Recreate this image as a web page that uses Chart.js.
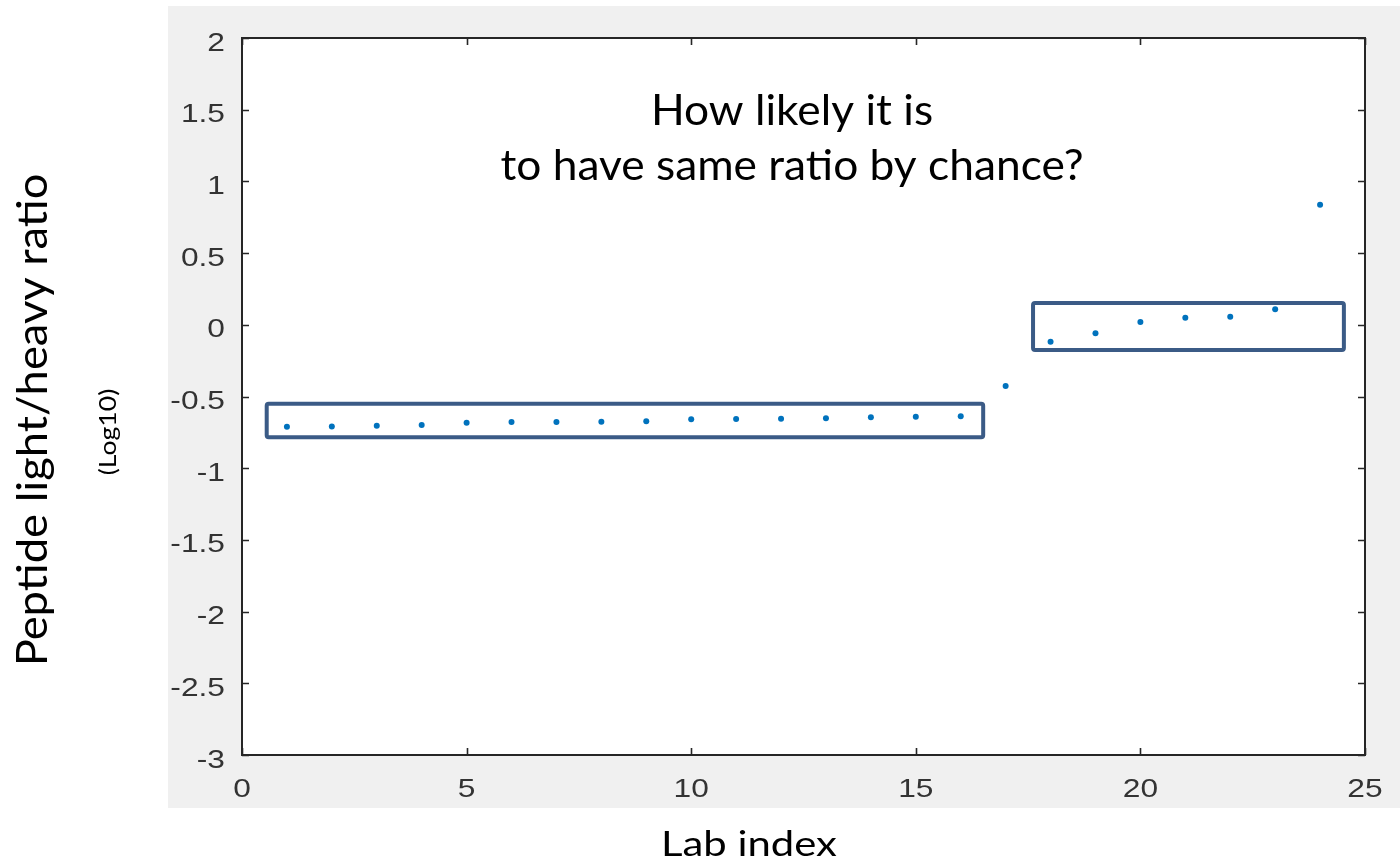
<!DOCTYPE html>
<html>
<head>
<meta charset="utf-8">
<script src="https://cdn.jsdelivr.net/npm/chart.js@4/dist/chart.umd.min.js"></script>
<style>
  html, body { margin: 0; padding: 0; background: #ffffff; }
  #wrap { width: 1400px; height: 866px; position: relative; }
</style>
</head>
<body>
<div id="wrap"><canvas id="c" width="1400" height="866"></canvas></div>
<script>
// Lab index and measured peptide light/heavy ratio (log10)
const labIndex = [1, 2, 3, 4, 5, 6, 7, 8, 9, 10, 11, 12, 13, 14, 15, 16, 17, 18, 19, 20, 21, 22, 23, 24];
const ratioLog10 = [-0.711, -0.710, -0.704, -0.699, -0.683, -0.678, -0.678, -0.676, -0.673, -0.659, -0.657, -0.655,
                    -0.652, -0.645, -0.641, -0.638, -0.427, -0.118, -0.059, 0.020, 0.050, 0.057, 0.108, 0.838];
const xTickValues = [0, 5, 10, 15, 20, 25];
const yTickValues = [2, 1.5, 1, 0.5, 0, -0.5, -1, -1.5, -2, -2.5, -3];

// Highlight boxes around the two clusters, in data units
const lowClusterBox = { x: [0.55, 16.5], y: [-0.785, -0.55] };
const highClusterBox = { x: [17.61, 24.53], y: [-0.176, 0.152] };

const titleLines = ['How likely it is', 'to have same ratio by chance?'];

const AXIS_COLOR = '#262626';
const TICK_COLOR = '#333333';
const TICK_FONT = '26px "Liberation Sans", Arial, sans-serif';
const TEXT_FONT = 'Lato, "Open Sans", sans-serif';

// Text drawn with a horizontal stretch factor (the figure is slightly widened)
function stretchedText(ctx, text, x, y, sx, align, baseline) {
  ctx.save();
  ctx.translate(x, y);
  ctx.scale(sx, 1);
  ctx.textAlign = align;
  ctx.textBaseline = baseline;
  ctx.fillText(text, 0, 0);
  ctx.restore();
}

// Grey figure background and white plotting area
const backdrop = {
  id: 'backdrop',
  beforeDraw(chart) {
    const { ctx, chartArea: a } = chart;
    ctx.save();
    ctx.fillStyle = '#ffffff';
    ctx.fillRect(0, 0, chart.width, chart.height);
    ctx.fillStyle = '#f0f0f0';
    ctx.fillRect(168, 6, chart.width - 168, 802);
    ctx.fillStyle = '#ffffff';
    ctx.fillRect(a.left, a.top, a.right - a.left, a.bottom - a.top);
    ctx.restore();
  }
};

// Axes box with inward-pointing tick marks on all four sides, plus tick labels
const frame = {
  id: 'frame',
  afterDatasetsDraw(chart) {
    const { ctx, chartArea: a, scales } = chart;
    const len = 7;
    ctx.save();
    ctx.strokeStyle = AXIS_COLOR;
    ctx.lineWidth = 1.6;
    ctx.beginPath();
    xTickValues.forEach(v => {
      const px = Math.round(scales.x.getPixelForValue(v)) + 0.5;
      ctx.moveTo(px, a.bottom); ctx.lineTo(px, a.bottom - len);
      ctx.moveTo(px, a.top); ctx.lineTo(px, a.top + len);
    });
    yTickValues.forEach(v => {
      const py = Math.round(scales.y.getPixelForValue(v)) + 0.5;
      ctx.moveTo(a.left, py); ctx.lineTo(a.left + len, py);
      ctx.moveTo(a.right, py); ctx.lineTo(a.right - len, py);
    });
    ctx.stroke();
    ctx.lineWidth = 2;
    ctx.strokeRect(a.left, a.top, a.right - a.left, a.bottom - a.top);

    ctx.fillStyle = TICK_COLOR;
    ctx.font = TICK_FONT;
    xTickValues.forEach(v => {
      stretchedText(ctx, String(v), scales.x.getPixelForValue(v), a.bottom + 42, 1.22, 'center', 'alphabetic');
    });
    yTickValues.forEach(v => {
      stretchedText(ctx, String(v), a.left - 17, scales.y.getPixelForValue(v) + 12.5, 1.22, 'right', 'alphabetic');
    });
    ctx.restore();
  }
};

// Rounded rectangles marking the clusters, plus the question text
const annotations = {
  id: 'annotations',
  afterDatasetsDraw(chart) {
    const { ctx, scales } = chart;
    ctx.save();
    ctx.strokeStyle = '#3b5b86';
    ctx.lineWidth = 4;
    [lowClusterBox, highClusterBox].forEach(b => {
      const x0 = scales.x.getPixelForValue(b.x[0]);
      const x1 = scales.x.getPixelForValue(b.x[1]);
      const y0 = scales.y.getPixelForValue(b.y[1]);
      const y1 = scales.y.getPixelForValue(b.y[0]);
      ctx.beginPath();
      ctx.roundRect(x0, y0, x1 - x0, y1 - y0, 2);
      ctx.stroke();
    });
    ctx.fillStyle = '#000000';
    ctx.font = '42px ' + TEXT_FONT;
    stretchedText(ctx, titleLines[0], 792, 125, 1.055, 'center', 'alphabetic');
    stretchedText(ctx, titleLines[1], 792, 180, 1.055, 'center', 'alphabetic');
    ctx.restore();
  }
};

// Axis titles drawn outside the grey panel
const axisTitles = {
  id: 'axisTitles',
  afterDraw(chart) {
    const { ctx } = chart;
    ctx.save();
    ctx.fillStyle = '#000000';
    ctx.font = '34px ' + TEXT_FONT;
    stretchedText(ctx, 'Lab index', 749, 856, 1.23, 'center', 'alphabetic');

    ctx.font = '42px ' + TEXT_FONT;
    ctx.save();
    ctx.translate(33, 420);
    ctx.rotate(-Math.PI / 2);
    stretchedText(ctx, 'Peptide light/heavy ratio', 0, 0, 1.08, 'center', 'middle');
    ctx.restore();

    ctx.font = '24px ' + TEXT_FONT;
    ctx.save();
    ctx.translate(108, 432);
    ctx.rotate(-Math.PI / 2);
    stretchedText(ctx, '(Log10)', 0, 0, 1.11, 'center', 'middle');
    ctx.restore();
    ctx.restore();
  }
};

new Chart(document.getElementById('c'), {
  type: 'scatter',
  data: {
    datasets: [{
      data: labIndex.map((x, i) => ({ x, y: ratioLog10[i] })),
      backgroundColor: '#0072BD',
      borderColor: '#0072BD',
      pointRadius: 3,
      pointBorderWidth: 0,
      pointHoverRadius: 3
    }]
  },
  options: {
    responsive: false,
    animation: false,
    events: [],
    layout: { padding: { left: 0, right: 35, top: 38, bottom: 0 } },
    plugins: { legend: { display: false }, tooltip: { enabled: false } },
    scales: {
      x: {
        type: 'linear',
        min: 0, max: 25,
        afterFit(scale) { scale.height = 111; },
        afterBuildTicks(scale) { scale.ticks = xTickValues.map(v => ({ value: v })); },
        grid: { display: false, drawTicks: false },
        border: { display: false },
        ticks: { display: false }
      },
      y: {
        type: 'linear',
        min: -3, max: 2,
        afterFit(scale) { scale.width = 242; },
        afterBuildTicks(scale) { scale.ticks = yTickValues.map(v => ({ value: v })); },
        grid: { display: false, drawTicks: false },
        border: { display: false },
        ticks: { display: false }
      }
    }
  },
  plugins: [backdrop, frame, annotations, axisTitles]
});
</script>
</body>
</html>
